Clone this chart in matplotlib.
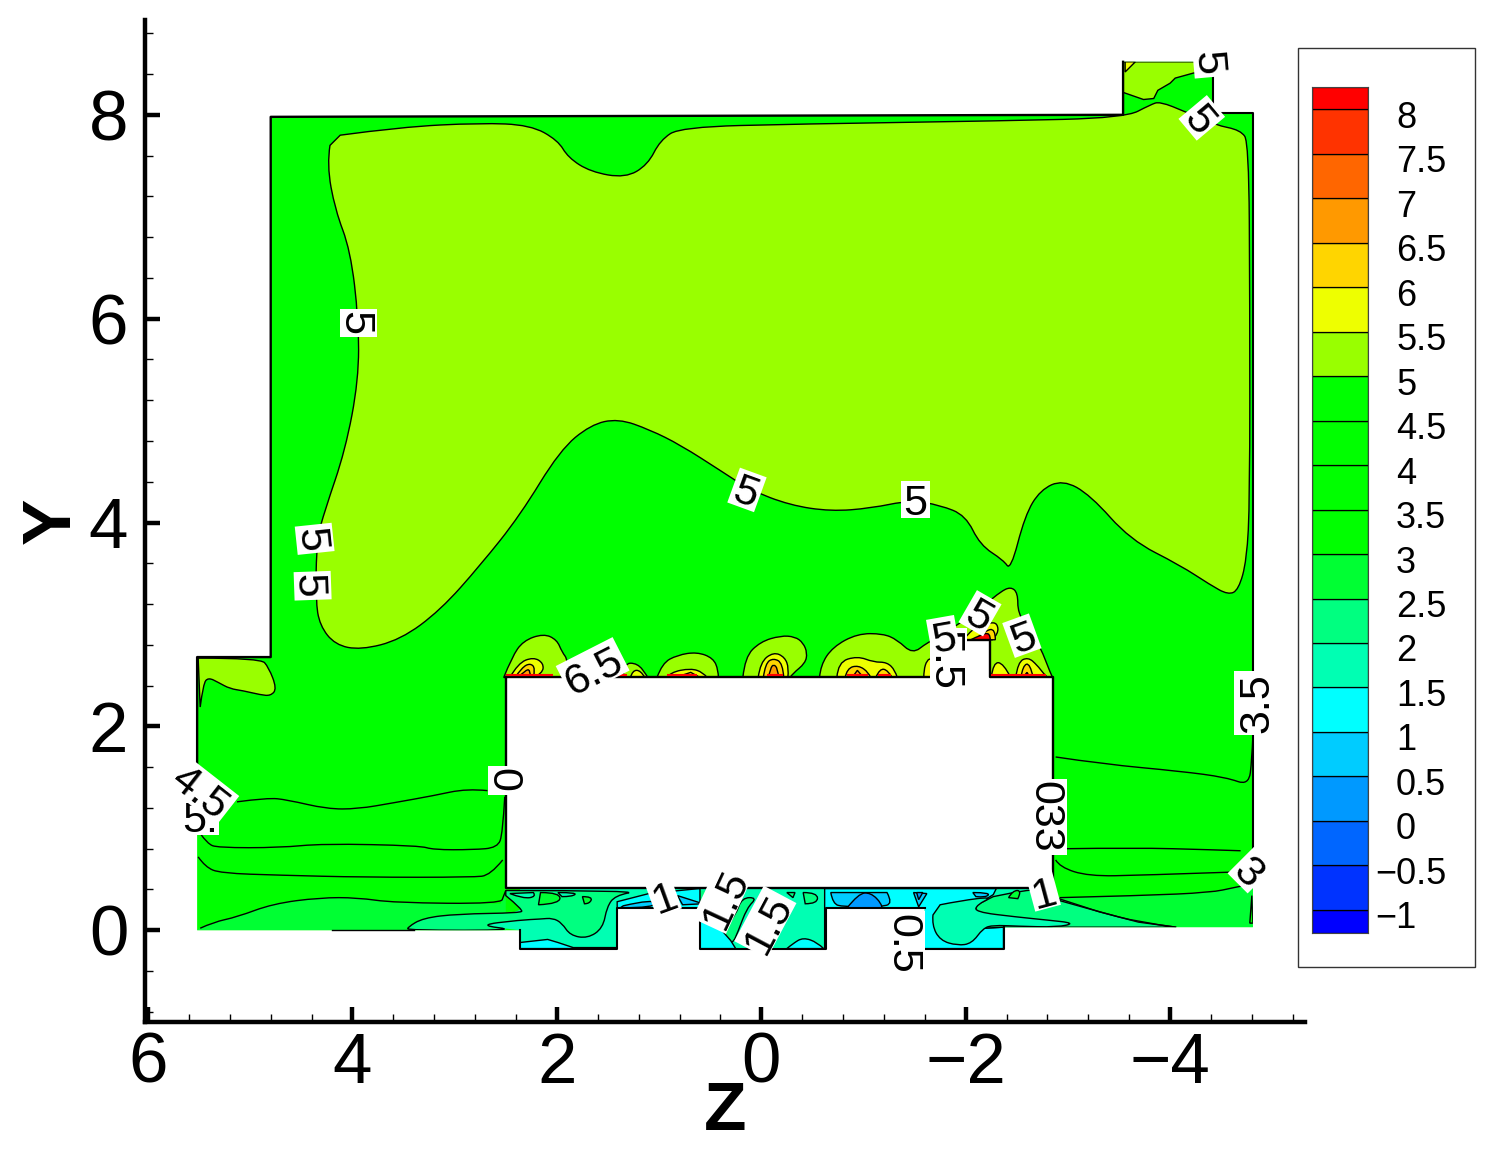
import matplotlib
matplotlib.use("Agg")
import matplotlib.pyplot as plt
from matplotlib.font_manager import FontProperties
from matplotlib.patches import PathPatch, Rectangle
from matplotlib.path import Path
from matplotlib.textpath import TextPath
from matplotlib.ticker import MultipleLocator
from matplotlib.transforms import Affine2D, IdentityTransform

plt.rcParams['font.family'] = ['Liberation Sans', 'DejaVu Sans']

# colour legend
band_edges = [-1.26, -1, -0.5, 0, 0.5, 1, 1.5, 2, 2.5, 3, 3.5, 4, 4.5, 5, 5.5, 6, 6.5, 7, 7.5, 8, 8.25]
band_colors = ['#0000ff', '#0033ff', '#0066ff', '#0099ff', '#00ccff', '#00ffff', '#00ffb3', '#00ff80',
               '#00ff33', '#00ff00', '#00ff00', '#00ff00', '#00ff00', '#99ff00', '#eeff00', '#ffd500',
               '#ff9900', '#ff6600', '#ff3300', '#ff0000']
legend_ticks = [-1, -0.5, 0, 0.5, 1, 1.5, 2, 2.5, 3, 3.5, 4, 4.5, 5, 5.5, 6, 6.5, 7, 7.5, 8]
legend_labels = ['\u22121', '\u22120.5', '0', '0.5', '1', '1.5', '2', '2.5', '3', '3.5', '4', '4.5', '5', '5.5',
                 '6', '6.5', '7', '7.5', '8']

# section outline (z, y)
domain = [(5.52, 0), (5.52, 2.68), (4.80, 2.68), (4.80, 7.98), (-3.54, 8.00), (-3.54, 8.52), (-4.42, 8.52),
          (-4.42, 8.02), (-4.81, 8.02), (-4.81, 0.03), (-2.37, 0.03), (-2.37, -0.18), (-1.60, -0.18),
          (-1.60, 0.22), (-0.63, 0.22), (-0.63, -0.18), (0.60, -0.18), (0.60, 0.22), (1.41, 0.22),
          (1.41, -0.18), (2.36, -0.18), (2.36, 0)]
hole = [(2.50, 2.48), (-1.98, 2.48), (-1.98, 2.85), (-2.24, 2.85), (-2.24, 2.48), (-2.85, 2.48),
        (-2.85, 0.41), (2.50, 0.41)]
wall_outer = [(5.52, 1.6), (5.52, 2.68), (4.80, 2.68), (4.80, 7.98), (-3.54, 8.00), (-3.54, 8.52)]
wall_right = [(-4.42, 8.42), (-4.42, 8.02), (-4.81, 8.02), (-4.81, 0.5)]
wall_slots = [(2.36, 0), (2.36, -0.18), (1.41, -0.18), (1.41, 0.22), (0.60, 0.22), (0.60, -0.18), (-0.63, -0.18),
              (-0.63, 0.22), (-1.60, 0.22)]
wall_slot3 = [(-1.60, -0.18), (-2.37, -0.18), (-2.37, 0.03)]
wall_floor = [(4.2, 0), (3.4, 0)]

# contour regions
main_55 = [(4.12, 7.80), (3.53, 7.88), (2.75, 7.92), (2.26, 7.90), (1.99, 7.75), (1.89, 7.58), (1.67, 7.44),
           (1.33, 7.38), (1.11, 7.51), (0.99, 7.75), (0.79, 7.88), (-0.38, 7.91), (-2.34, 7.94), (-3.56, 7.97),
           (-3.81, 8.10), (-3.90, 8.13), (-4.15, 8.03), (-4.44, 7.90), (-4.69, 7.85), (-4.77, 7.73),
           (-4.78, 6.18), (-4.78, 4.22), (-4.75, 3.63), (-4.67, 3.34), (-4.57, 3.29), (-4.39, 3.39),
           (-4.10, 3.58), (-3.61, 3.83), (-3.22, 4.27), (-2.95, 4.42), (-2.73, 4.32), (-2.58, 4.07),
           (-2.44, 3.53), (-2.37, 3.63), (-2.14, 3.78), (-2.00, 4.07), (-1.75, 4.17), (-1.46, 4.22),
           (-1.07, 4.14), (-0.68, 4.11), (-0.28, 4.17), (0.11, 4.32), (0.40, 4.51), (0.79, 4.76), (1.09, 4.91),
           (1.40, 5.02), (1.67, 4.96), (1.97, 4.71), (2.36, 4.07), (2.75, 3.58), (3.14, 3.14), (3.53, 2.85),
           (3.92, 2.75), (4.17, 2.80), (4.32, 2.99), (4.36, 3.24), (4.35, 3.83), (4.27, 4.12), (4.07, 4.71),
           (3.94, 5.40), (3.94, 5.99), (4.02, 6.67), (4.17, 7.07), (4.25, 7.51), (4.22, 7.70)]
top_box_55 = [(-3.54, 8.52), (-4.42, 8.52), (-4.42, 8.42), (-4.23, 8.41), (-4.05, 8.36), (-4.00, 8.31),
              (-3.88, 8.24), (-3.84, 8.16), (-3.74, 8.15), (-3.54, 8.22)]
top_box_60 = [(-3.56, 8.52), (-3.66, 8.52), (-3.56, 8.42)]
left_patch_55 = [(5.51, 2.67), (4.90, 2.67), (4.82, 2.58), (4.74, 2.37), (4.80, 2.30), (4.90, 2.31), (5.07, 2.35),
                 (5.20, 2.37), (5.31, 2.43), (5.41, 2.48), (5.46, 2.42), (5.49, 2.19)]

bumps_55 = [
    [(2.52, 2.48), (2.44, 2.68), (2.33, 2.84), (2.13, 2.91), (2.00, 2.85), (1.95, 2.73), (1.89, 2.65), (1.89, 2.48)],
    [(1.35, 2.48), (1.35, 2.62), (1.21, 2.62), (1.12, 2.50), (1.11, 2.48)],
    [(1.02, 2.48), (0.97, 2.62), (0.82, 2.70), (0.63, 2.73), (0.47, 2.67), (0.42, 2.55), (0.42, 2.48)],
    [(0.18, 2.48), (0.16, 2.68), (0.01, 2.83), (-0.19, 2.89), (-0.33, 2.88), (-0.41, 2.82), (-0.45, 2.72),
     (-0.43, 2.62), (-0.31, 2.52), (-0.28, 2.48)],
    [(-0.57, 2.48), (-0.58, 2.60), (-0.70, 2.78), (-0.94, 2.91), (-1.19, 2.91), (-1.33, 2.85), (-1.48, 2.71),
     (-1.62, 2.82), (-1.95, 3.01), (-2.21, 3.21), (-2.34, 3.32), (-2.44, 3.37), (-2.51, 3.31), (-2.51, 3.11),
     (-2.63, 2.94), (-2.73, 2.78), (-2.83, 2.52), (-2.85, 2.48)],
]
bumps_60 = [
    [(2.46, 2.48), (2.38, 2.62), (2.23, 2.68), (2.13, 2.62), (2.14, 2.52), (2.23, 2.48)],
    [(1.28, 2.48), (1.26, 2.55), (1.18, 2.55), (1.14, 2.48)],
    [(0.92, 2.48), (0.89, 2.53), (0.69, 2.57), (0.57, 2.53), (0.53, 2.48)],
    [(0.03, 2.48), (0.01, 2.63), (-0.12, 2.73), (-0.23, 2.68), (-0.27, 2.57), (-0.26, 2.48)],
    [(-0.74, 2.48), (-0.75, 2.63), (-0.94, 2.69), (-1.10, 2.63), (-1.23, 2.63), (-1.31, 2.55), (-1.33, 2.48)],
    [(-1.59, 2.48), (-1.59, 2.55), (-1.62, 2.65), (-1.67, 2.67), (-1.80, 2.48)],
    [(-1.98, 2.85), (-2.00, 2.88), (-2.09, 2.97), (-2.24, 3.02), (-2.31, 3.01), (-2.32, 2.91), (-2.26, 2.85)],
    [(-2.25, 2.48), (-2.27, 2.63), (-2.37, 2.62), (-2.44, 2.48)],
    [(-2.49, 2.48), (-2.51, 2.63), (-2.61, 2.68), (-2.70, 2.60), (-2.76, 2.52), (-2.80, 2.48)],
]
bumps_65 = [
    [(2.41, 2.48), (2.34, 2.58), (2.26, 2.62), (2.21, 2.57), (2.23, 2.48)],
    [(0.84, 2.48), (0.69, 2.53), (0.60, 2.48)],
    [(-0.02, 2.48), (-0.04, 2.62), (-0.12, 2.67), (-0.21, 2.62), (-0.22, 2.48)],
    [(-0.82, 2.48), (-0.84, 2.57), (-0.95, 2.60), (-1.05, 2.53), (-1.07, 2.48)],
    [(-1.12, 2.48), (-1.16, 2.57), (-1.24, 2.55), (-1.28, 2.48)],
    [(-2.09, 2.85), (-2.19, 2.94), (-2.29, 2.96), (-2.29, 2.85)],
    [(-2.54, 2.48), (-2.56, 2.60), (-2.63, 2.62), (-2.66, 2.48)],
]
bumps_70 = [
    [(2.38, 2.48), (2.31, 2.55), (2.26, 2.56), (2.26, 2.48)],
    [(-0.07, 2.48), (-0.09, 2.57), (-0.12, 2.61), (-0.16, 2.57), (-0.17, 2.48)],
    [(-0.89, 2.48), (-0.94, 2.55), (-1.00, 2.48)],
]
bumps_80 = [
    [(-2.05, 2.85), (-2.15, 2.90), (-2.24, 2.92), (-2.24, 2.85)],
    [(-2.56, 2.48), (-2.60, 2.53), (-2.63, 2.48)],
]
red_spans = [(2.50, 2.04), (1.41, 1.31), (0.92, 0.63), (-0.06, -0.21), (-0.84, -1.04), (-1.14, -1.27), (-2.25, -2.79)]

# contour lines in the lower part
line_left_a = [(5.13, 1.26), (4.83, 1.30), (4.64, 1.28), (4.25, 1.19), (3.95, 1.19), (3.60, 1.25), (3.21, 1.32),
               (2.88, 1.39), (2.68, 1.37)]
line_left_b = [(5.49, 0.95), (5.42, 0.85), (5.32, 0.81), (4.71, 0.81), (4.29, 0.85), (3.34, 0.83), (3.21, 0.79),
               (2.82, 0.79), (2.58, 0.81), (2.53, 0.95), (2.51, 1.31)]
line_left_c = [(5.51, 0.72), (5.44, 0.62), (5.29, 0.56), (4.71, 0.54), (3.89, 0.52), (2.82, 0.52), (2.65, 0.54),
               (2.53, 0.69)]
line_left_d = [(5.49, 0.02), (5.36, 0.08), (5.13, 0.13), (4.78, 0.26), (4.32, 0.32), (3.95, 0.32), (3.60, 0.27),
               (2.55, 0.26), (2.52, 0.34), (2.50, 0.39)]
line_right_a = [(-2.88, 1.70), (-3.35, 1.63), (-4.10, 1.56), (-4.55, 1.50), (-4.77, 1.42), (-4.80, 1.67), (-4.81, 1.9)]
line_right_b = [(-2.97, 0.80), (-3.65, 0.81), (-4.40, 0.79), (-4.69, 0.78)]
line_right_c = [(-2.88, 0.69), (-2.92, 0.62), (-3.20, 0.53), (-3.72, 0.54), (-4.59, 0.57)]
line_right_d = [(-2.92, 0.32), (-3.72, 0.34), (-4.40, 0.37), (-4.63, 0.42), (-4.78, 0.45)]
line_low_right = [(-2.78, 0.33), (-3.31, 0.18), (-3.69, 0.08), (-4.06, 0.03)]

band_left = line_left_d + [(2.50, 0.0), (5.52, 0.0)]
band_right = line_right_d + [(-4.81, 0.45), (-4.81, 0.03), (-2.37, 0.03), (-2.37, 0.32)]
corner_wedge = [(-4.78, 0.07), (-4.80, 0.34), (-4.81, 0.07)]
slot_fill = [(2.78, 0.05), (2.36, 0.20), (2.36, 0.41), (-2.85, 0.41), (-2.85, -0.18), (2.36, -0.18), (2.36, 0.0)]

under_left_20 = [(2.50, 0.39), (1.18, 0.39), (1.43, 0.34), (1.51, 0.23), (1.55, 0.02), (1.70, -0.08), (1.87, -0.05),
                 (1.95, 0.07), (2.04, 0.12), (2.16, 0.11), (2.36, 0.10), (2.78, 0.05), (2.36, 0.0), (3.46, 0.0),
                 (3.46, 0.03), (3.31, 0.12), (2.97, 0.16), (2.36, 0.17), (2.33, 0.20), (2.50, 0.34)]
under_right_20 = [(-2.11, 0.25), (-2.27, 0.33), (-2.47, 0.37), (-2.60, 0.39), (-2.85, 0.41), (-2.88, 0.32),
                  (-3.31, 0.18), (-3.69, 0.08), (-4.06, 0.03), (-2.37, 0.03), (-2.17, 0.02), (-2.09, 0.18)]
tongue_20 = [(0.40, -0.04), (0.37, -0.12), (0.28, -0.13), (0.23, -0.02), (0.14, 0.22), (0.04, 0.32), (0.19, 0.32),
             (0.25, 0.15), (0.33, 0.05)]
mid_tri_20 = [(0.57, 0.26), (0.52, 0.39), (0.82, 0.39)]
slot2_top_20 = [[(-0.25, 0.37), (-0.33, 0.37), (-0.31, 0.32)],
                [(-0.41, 0.37), (-0.55, 0.37), (-0.55, 0.26), (-0.43, 0.26)]]

cyan_center = [(-0.62, 0.41), (-2.30, 0.41), (-2.27, 0.35), (-2.11, 0.25), (-2.09, 0.18), (-2.17, 0.02), (-2.37, 0.03),
               (-2.37, -0.18), (-0.62, -0.18)]
cyan_slot1 = [(2.36, -0.12), (2.09, -0.09), (1.99, -0.12), (1.84, -0.17), (1.41, -0.17), (1.41, -0.18), (2.36, -0.18)]
cyan_bridge = [(1.41, 0.28), (1.10, 0.36), (0.60, 0.41), (0.60, 0.22), (1.41, 0.22)]
cyan_slot2 = [(0.60, 0.22), (0.42, 0.22), (0.33, 0.05), (0.37, -0.02), (0.30, -0.10), (0.25, -0.18), (0.60, -0.18)]
cyan_bump = [(-0.25, -0.18), (-0.31, -0.13), (-0.41, -0.07), (-0.55, -0.12), (-0.61, -0.18)]

blue_05 = [[(1.35, 0.24), (1.05, 0.31), (1.03, 0.22), (1.38, 0.22)],
           [(0.82, 0.34), (0.57, 0.26), (0.77, 0.25)],
           [(-0.68, 0.37), (-0.70, 0.26), (-0.80, 0.23), (-1.16, 0.23), (-1.29, 0.26), (-1.23, 0.37)],
           [(-1.49, 0.37), (-1.54, 0.23), (-1.62, 0.36)],
           [(-2.07, 0.37), (-2.24, 0.37), (-2.20, 0.32), (-2.10, 0.33)]]
blue_00 = [[(-0.84, 0.22), (-0.95, 0.36), (-1.07, 0.37), (-1.18, 0.26), (-1.18, 0.22)],
           [(-1.52, 0.37), (-1.54, 0.30), (-1.58, 0.37)]]

blob_15 = [(-1.68, 0.15), (-1.67, 0.05), (-1.75, -0.10), (-1.92, -0.15), (-2.06, -0.13), (-2.17, 0.02), (-2.27, 0.05),
           (-2.50, 0.04), (-2.90, 0.03), (-3.07, 0.07), (-2.80, 0.10), (-2.50, 0.13), (-2.09, 0.18), (-2.11, 0.25),
           (-2.27, 0.33), (-1.95, 0.29), (-1.75, 0.25)]
swirls_15 = [[(2.46, 0.36), (2.33, 0.31), (2.20, 0.33), (2.23, 0.37)],
             [(1.99, 0.37), (1.80, 0.37), (1.85, 0.33), (1.95, 0.33)]]
patches_25 = [[(2.16, 0.37), (1.97, 0.37), (1.97, 0.26), (2.18, 0.25)],
              [(1.75, 0.33), (1.65, 0.33), (1.68, 0.26), (1.73, 0.26)],
              [(-2.42, 0.32), (-2.46, 0.39), (-2.55, 0.39), (-2.51, 0.31)]]

# contour labels: text, z, y, rotation
contour_labels = [('5', 3.94, 5.96, -90), ('5', 4.37, 3.84, -84), ('5', 4.39, 3.38, -88), ('5', 0.14, 4.32, -20),
                  ('5', -1.51, 4.23, 0), ('6.5', 1.65, 2.57, 27), ('0', 2.49, 1.47, -90), ('3.5', -4.81, 2.23, 90),
                  ('033', -2.81, 1.11, -90), ('3', -4.79, 0.59, -45), ('1', -2.76, 0.39, 15), ('1', 0.96, 0.34, 20),
                  ('1.5', 0.38, 0.32, 65), ('1.5', -0.04, 0.08, 62), ('0.5', -1.42, -0.13, -90),
                  ('5', -4.41, 8.51, -85), ('5', -4.31, 7.97, -50), ('5:', 5.49, 1.12, 0), ('4.5', 5.47, 1.37, -38),
                  ('5.5', -1.83, 2.65, -90), ('5', -1.78, 2.89, 10), ('5', -2.14, 3.11, -30), ('5', -2.55, 2.89, 20)]

x_ticks = [6, 4, 2, 0, -2, -4]
y_ticks = [0, 2, 4, 6, 8]

W, H = 1491, 1161
fig = plt.figure(figsize=(W / 100, H / 100), dpi=100)
ax = fig.add_axes([145 / W, 1 - 1022 / H, 1160 / W, 1002 / H])
ax.patch.set_visible(False)
ax.set_xlim(6.03, -5.32)
ax.set_ylim(-0.90, 8.93)

verts = domain + [domain[0]] + hole[::-1] + [hole[-1]]
codes = [Path.MOVETO] + [Path.LINETO] * (len(domain) - 1) + [Path.CLOSEPOLY]
codes += [Path.MOVETO] + [Path.LINETO] * (len(hole) - 1) + [Path.CLOSEPOLY]
domain_patch = PathPatch(Path(verts, codes), facecolor='#00ff00', edgecolor='none', zorder=1)
ax.add_patch(domain_patch)


def curve_path(points, closed=True):
    # quadratic curve with the read points as control points, ends stay put
    v = [points[0]]
    c = [Path.MOVETO]
    for i in range(1, len(points) - 1):
        mid = ((points[i][0] + points[i + 1][0]) / 2, (points[i][1] + points[i + 1][1]) / 2)
        if i == len(points) - 2:
            mid = points[-1]
        v += [points[i], mid]
        c += [Path.CURVE3, Path.CURVE3]
    if closed:
        v.append(points[0])
        c.append(Path.CLOSEPOLY)
    return Path(v, c)


def region(points, color, edge=True, smooth=True, z=2):
    if smooth and len(points) > 3:
        path = curve_path(points)
    else:
        path = Path(points + [points[0]], closed=True)
    p = PathPatch(path, facecolor=color, edgecolor='k' if edge else 'none', lw=1.0, zorder=z)
    ax.add_patch(p)
    p.set_clip_path(domain_patch)


def line(points, lw=1.0, z=3):
    p = PathPatch(curve_path(points, closed=False), facecolor='none', edgecolor='k', lw=lw, zorder=z)
    ax.add_patch(p)
    p.set_clip_path(domain_patch)


region(main_55, '#99ff00')
region(top_box_55, '#99ff00', smooth=False)
region(top_box_60, '#eeff00', smooth=False)
region(left_patch_55, '#99ff00')
for b in bumps_55:
    region(b, '#99ff00')
for b in bumps_60:
    region(b, '#eeff00')
for b in bumps_65:
    region(b, '#ffd500')
for b in bumps_70:
    region(b, '#ff9900')
for b in bumps_80:
    region(b, '#ff0000')

region(band_left, '#00ff33', edge=False, smooth=False)
region(band_right, '#00ff33', edge=False, smooth=False)
region(corner_wedge, '#00ff00', smooth=False)
region(slot_fill, '#00ffb3', edge=False, smooth=False)
region(cyan_center, '#00ffff', smooth=False)
region(under_left_20, '#00ff80')
region(under_right_20, '#00ff80', smooth=False)
region(tongue_20, '#00ff80')
region(mid_tri_20, '#00ff80', edge=False, smooth=False)
for b in slot2_top_20:
    region(b, '#00ff80')
region(cyan_slot1, '#00ffff', smooth=False)
region(cyan_bridge, '#00ffff', smooth=False)
region(cyan_slot2, '#00ffff', smooth=False)
region(cyan_bump, '#00ffff')
for b in blue_05:
    region(b, '#00ccff')
for b in blue_00:
    region(b, '#0099ff')
region(blob_15, '#00ffb3')
for b in swirls_15:
    region(b, '#00ffb3')
for b in patches_25:
    region(b, '#00ff33')

for l in [line_left_a, line_left_b, line_left_c, line_left_d,
          line_right_a, line_right_b, line_right_c, line_right_d, line_low_right]:
    line(l)

# walls
for w, lw in [(wall_outer, 1.7), (wall_right, 1.5), (wall_slots, 1.5), (wall_slot3, 1.5), (wall_floor, 1.0)]:
    ax.plot([p[0] for p in w], [p[1] for p in w], color='k', lw=lw, zorder=4, solid_capstyle='projecting')
ax.plot([p[0] for p in hole + hole[:1]], [p[1] for p in hole + hole[:1]], color='k', lw=1.7, zorder=4)
for a, b in red_spans:
    ax.plot([a, b], [2.50, 2.50], color='#ff0000', lw=1.5, zorder=5, solid_capstyle='butt')

# contour labels with a tight white box turned with the text
LABEL_SIZE = 31
label_font = FontProperties(family='Liberation Sans')
for i, (text, z, y, rot) in enumerate(contour_labels):
    ext = TextPath((0, 0), text, size=LABEL_SIZE, prop=label_font).get_extents()
    w = ext.width * 100 / 72 + 8
    h = ext.height * 100 / 72 + 7
    px, py = ax.transData.transform((z, y))
    box = Rectangle((-w / 2, -h / 2), w, h, facecolor='white', edgecolor='none', zorder=6 + i * 0.01,
                    transform=Affine2D().rotate_deg(rot).translate(px, py) + IdentityTransform())
    ax.add_artist(box)
    ax.text(z, y, text, fontsize=LABEL_SIZE, rotation=rot, rotation_mode='anchor', ha='center', va='center_baseline',
            zorder=6.005 + i * 0.01)

# axes
for side in ['top', 'right']:
    ax.spines[side].set_visible(False)
for side in ['left', 'bottom']:
    ax.spines[side].set_linewidth(3.2)
ax.set_xticks(x_ticks)
ax.set_yticks(y_ticks)
ax.set_xticklabels([str(t).replace('-', '\u2212') for t in x_ticks])
ax.xaxis.set_minor_locator(MultipleLocator(0.4))
ax.yaxis.set_minor_locator(MultipleLocator(0.4))
ax.tick_params(which='major', direction='in', length=11, width=3.2, labelsize=51)
ax.tick_params(which='minor', direction='in', length=6, width=1.0)
ax.tick_params(axis='x', which='major', pad=7)
ax.tick_params(axis='y', which='major', pad=12)
ax.set_xlabel('Z', fontsize=50, fontweight='bold', va='center')
ax.set_ylabel('Y', fontsize=50, fontweight='bold', va='center')
ax.xaxis.set_label_coords(0.5, -0.09)
ax.yaxis.set_label_coords(-0.08, 0.50)

# legend box
fig.add_artist(Rectangle((1298 / W, 1 - 967 / H), 177 / W, 919 / H, transform=fig.transFigure,
                         facecolor='white', edgecolor='#333333', lw=1.0, zorder=0))
cax = fig.add_axes([1312 / W, 1 - 933 / H, 56 / W, 846 / H])
cax.set_xlim(0, 1)
cax.set_ylim(band_edges[0], band_edges[-1])
for i, c in enumerate(band_colors):
    cax.bar(0.5, band_edges[i + 1] - band_edges[i], width=1, bottom=band_edges[i], color=c, edgecolor='k', lw=0.9)
cax.set_xticks([])
cax.set_yticks([])
for s in cax.spines.values():
    s.set_color('#444444')
for v, lab in zip(legend_ticks, legend_labels):
    dx = 7 if lab.startswith('\u2212') else 28
    cax.annotate(lab, xy=(1, v), xycoords=('axes fraction', 'data'), xytext=(dx, -9), textcoords='offset pixels',
                 fontsize=26, ha='left', va='center')

fig.savefig('out.png', dpi=100)
